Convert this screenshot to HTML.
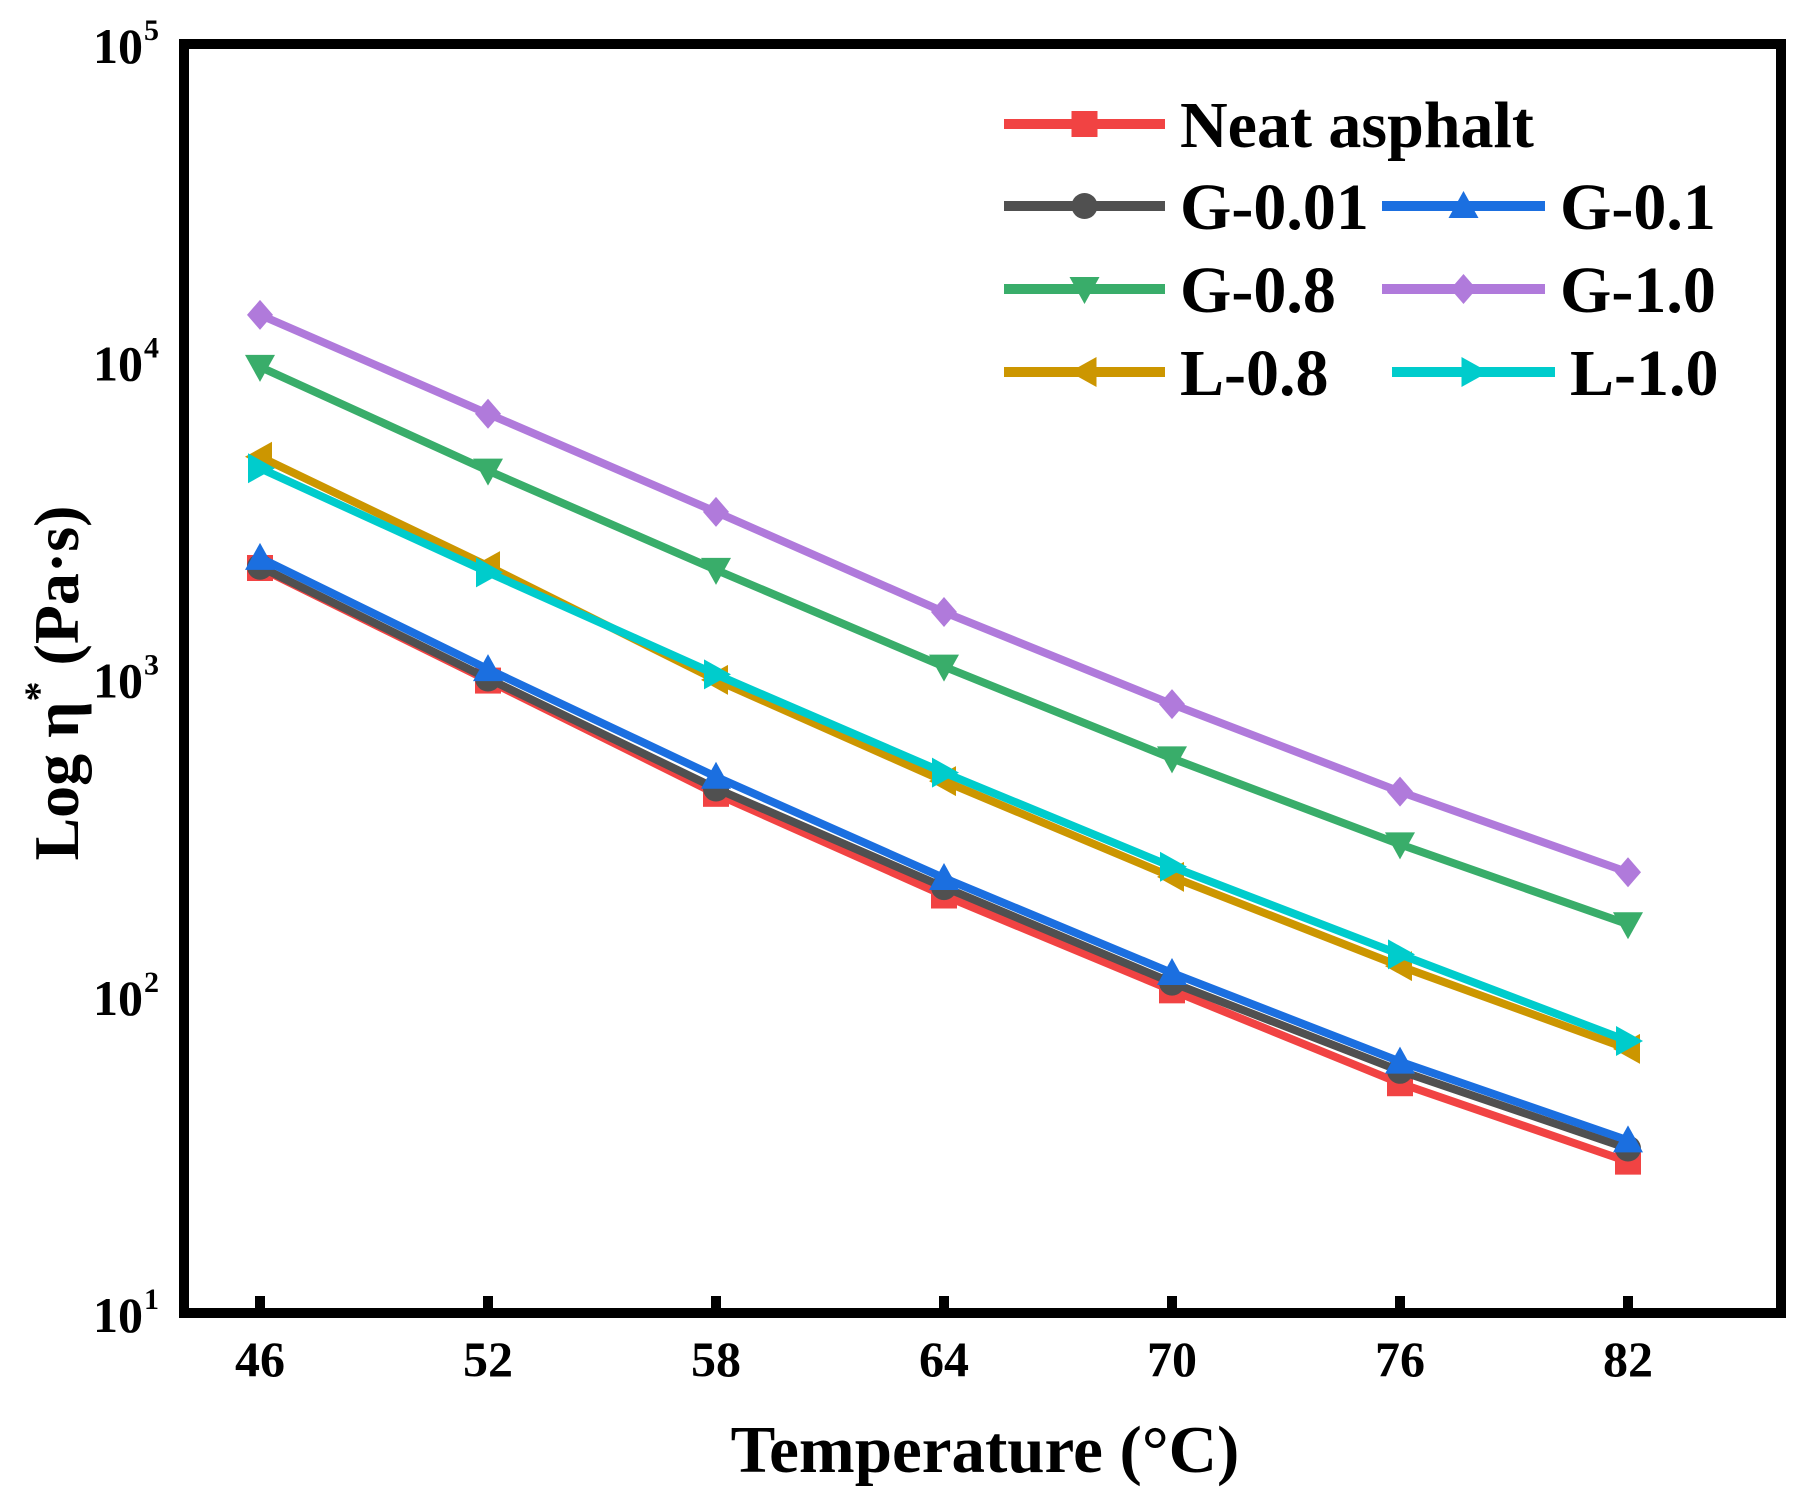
<!DOCTYPE html>
<html><head><meta charset="utf-8"><style>
html,body{margin:0;padding:0;background:#fff}
svg{display:block}
text{font-family:"Liberation Serif",serif;font-weight:bold;fill:#000}
</style></head><body>
<svg id="chart" width="1807" height="1506" viewBox="0 0 1807 1506" xmlns="http://www.w3.org/2000/svg">
<g id="plot"></g>
<g id="axes"></g>
<g id="legend"></g>
</svg>
<script>
const temps = [46, 52, 58, 64, 70, 76, 82];
const xTicks = [46, 52, 58, 64, 70, 76, 82];
const yTickExps = [1, 2, 3, 4, 5];
const neat = [2230, 985, 433, 207, 104, 53, 30];
const g001 = [2250, 1000, 450, 220, 110, 58, 33];
const g01 = [2400, 1070, 490, 235, 118, 62, 35];
const g08 = [9600, 4520, 2200, 1090, 560, 300, 168];
const g10 = [14000, 6830, 3350, 1620, 830, 440, 245];
const l08 = [5000, 2260, 990, 475, 237, 124, 68];
const l10 = [4600, 2160, 1030, 505, 255, 135, 72];
const seriesNames = ["Neat asphalt","G-0.01","G-0.1","G-0.8","G-1.0","L-0.8","L-1.0"];

const NS="http://www.w3.org/2000/svg";
const L=184,R=1781,T=44,B=1313;
function xs(v){return 260+(v-46)*38;}
function ys(v){return B-(Math.log10(v)-1)*(B-T)/4;}
function mk(tag,attrs,parent){const e=document.createElementNS(NS,tag);for(const k in attrs)e.setAttribute(k,attrs[k]);parent.appendChild(e);return e;}
const plot=document.getElementById('plot'),axes=document.getElementById('axes'),leg=document.getElementById('legend');

function marker(type,x,y,color,parent){
  const s=13;let e;
  if(type==='square'){e=mk('rect',{x:x-s,y:y-s,width:2*s,height:2*s,fill:color},parent);}
  else if(type==='circle'){e=mk('circle',{cx:x,cy:y,r:s,fill:color},parent);}
  else{
    let p;
    if(type==='up')p=[[x,y-s-2],[x+s+2,y+s-1],[x-s-2,y+s-1]];
    else if(type==='down')p=[[x,y+s+2],[x+s+2,y-s+1],[x-s-2,y-s+1]];
    else if(type==='diamond')p=[[x,y-s-2],[x+s,y],[x,y+s+2],[x-s,y]];
    else if(type==='left')p=[[x-s-2,y],[x+s-1,y-s-2],[x+s-1,y+s+2]];
    else p=[[x+s+2,y],[x-s+1,y-s-2],[x-s+1,y+s+2]];
    e=mk('polygon',{points:p.map(a=>a.join(',')).join(' '),fill:color},parent);
  }
  return e;
}

const series=[
 {d:neat,c:'#f14343',m:'square'},
 {d:g001,c:'#505050',m:'circle'},
 {d:g01,c:'#1b6fe0',m:'up'},
 {d:g08,c:'#39ad6a',m:'down'},
 {d:g10,c:'#b07adb',m:'diamond'},
 {d:l08,c:'#cc9600',m:'left'},
 {d:l10,c:'#00cccc',m:'right'}
];
const order=[4,3,5,6,0,1,2];
order.forEach(i=>{
  const s=series[i];
  const g=mk('g',{},plot);
  
  
  const pl=mk('polyline',{points:s.d.map((v,j)=>xs(temps[j])+','+ys(v)).join(' '),fill:'none',stroke:s.c,'stroke-width':8,'stroke-linejoin':'miter'},g);
  
  
  s.d.forEach((v,j)=>{const m=marker(s.m,xs(temps[j]),ys(v),s.c,g);
    
    });
});

const fr=mk('rect',{x:L,y:T,width:R-L,height:B-T,fill:'none',stroke:'#000','stroke-width':10},axes);


xTicks.forEach(v=>{
  const x=xs(v);
  const t=mk('line',{x1:x,y1:B,x2:x,y2:B-17,stroke:'#000','stroke-width':10},axes);
  
  
  const lb=mk('text',{x:x,y:B+63,'text-anchor':'middle','font-size':50},axes);lb.textContent=v;
  
  
});
yTickExps.forEach(e=>{
  const y=ys(Math.pow(10,e));
  const lb=mk('text',{x:143,y:y+19,'text-anchor':'end','font-size':50},axes);lb.textContent='10';
  
  
  const sp=mk('text',{x:144,y:y-4,'font-size':30,'font-weight':'normal'},axes);sp.textContent=e;
  
  
});
const xt=mk('text',{x:985,y:1472,'text-anchor':'middle','font-size':67},axes);xt.textContent='Temperature (°C)';


const yt=mk('text',{x:0,y:0,'text-anchor':'middle','font-size':64,transform:'translate(78,683) rotate(-90)'},axes);
yt.innerHTML='Log η<tspan dy="-26" font-size="40">*</tspan><tspan dy="26"> (Pa·s)</tspan>';



const legPos=[[0,0,124],[1,0,206],[2,1,206],[3,0,289],[4,1,289],[5,0,372],[6,1,372]];
legPos.forEach(([i,col,y])=>{
  const s=series[i];
  const x0=col?1382:1004, x1=col?1545:1165, tx=col?1560:1180;
  const dx=(i===6)?10:0;
  const g=mk('g',{},leg);
  
  
  mk('line',{x1:x0+dx,y1:y,x2:x1+dx,y2:y,stroke:s.c,'stroke-width':10},g);
  marker(s.m,(x0+x1)/2+dx,y,s.c,g);
  const t=mk('text',{x:tx+dx,y:y+23,'font-size':66},g);t.textContent=seriesNames[i];
});
</script>
</body></html>
